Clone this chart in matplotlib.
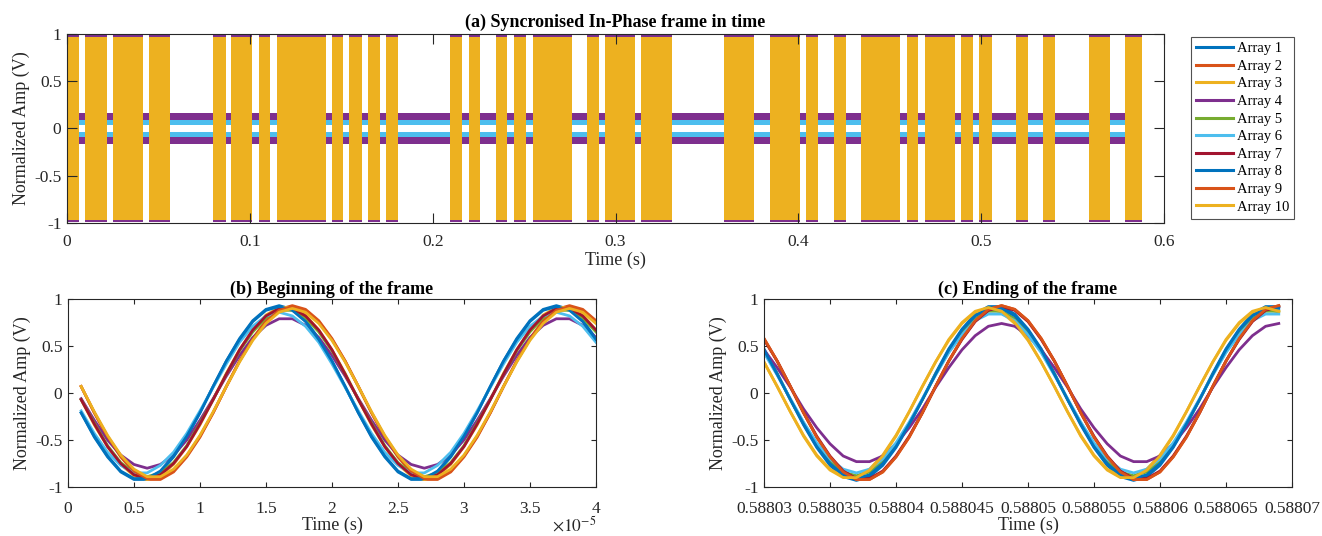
import numpy as np
import matplotlib
matplotlib.use("Agg")
import matplotlib.pyplot as plt
from matplotlib.lines import Line2D
from matplotlib.ticker import FuncFormatter

# ---------------- data ----------------
array_names = ["Array 1", "Array 2", "Array 3", "Array 4", "Array 5",
               "Array 6", "Array 7", "Array 8", "Array 9", "Array 10"]
array_colors = ["#0072BD", "#D95319", "#EDB120", "#7E2F8E", "#77AC30",
                "#4DBEEE", "#A2142F", "#0072BD", "#D95319", "#EDB120"]

# (a) bursts of the frame (s)
burst_start = [0.0, 0.0100, 0.0250, 0.0449, 0.0798, 0.0898, 0.1049, 0.1150,
               0.1451, 0.1544, 0.1646, 0.1745, 0.2097, 0.2197, 0.2346, 0.2444,
               0.2548, 0.2845, 0.2945, 0.3142, 0.3593, 0.3846, 0.4044, 0.4193,
               0.4344, 0.4593, 0.4692, 0.4891, 0.4990, 0.5190, 0.5340, 0.5591,
               0.5789]
burst_end = [0.0067, 0.0217, 0.0414, 0.0564, 0.0867, 0.1013, 0.1111, 0.1416,
             0.1509, 0.1613, 0.1713, 0.1812, 0.2162, 0.2261, 0.2409, 0.2510,
             0.2762, 0.2912, 0.3109, 0.3310, 0.3757, 0.4010, 0.4107, 0.4259,
             0.4555, 0.4656, 0.4856, 0.4954, 0.5057, 0.5255, 0.5403, 0.5706,
             0.5881]
burst_amp = 0.965       # Array 10 envelope
cap_amp = 0.99          # Array 4 envelope in bursts
noise_outer = 0.16      # Array 4 envelope between bursts
noise_mid = 0.09        # Array 6 envelope between bursts
noise_inner = 0.035

# (b) beginning of the frame, samples at 1..40 us
b_vals = {
    1: [-0.21, -0.47, -0.68, -0.84, -0.92, -0.92, -0.84, -0.68, -0.47, -0.21, 0.07, 0.34, 0.58, 0.77, 0.89, 0.93, 0.89, 0.77, 0.58, 0.34, 0.07,
        -0.21, -0.47, -0.68, -0.84, -0.92, -0.92, -0.84, -0.68, -0.47, -0.21, 0.07, 0.34, 0.58, 0.77, 0.89, 0.93, 0.89, 0.77, 0.58],
    2: [0.07, -0.21, -0.47, -0.68, -0.84, -0.92, -0.92, -0.84, -0.68, -0.47, -0.21, 0.07, 0.34, 0.58, 0.77, 0.89, 0.93, 0.89, 0.77, 0.58, 0.34,
        0.07, -0.21, -0.47, -0.68, -0.84, -0.92, -0.92, -0.84, -0.68, -0.47, -0.21, 0.07, 0.34, 0.58, 0.77, 0.89, 0.93, 0.89, 0.77],
    3: [-0.07, -0.34, -0.57, -0.76, -0.88, -0.92, -0.88, -0.76, -0.57, -0.34, -0.07, 0.21, 0.46, 0.67, 0.83, 0.91, 0.91, 0.83, 0.67, 0.46, 0.21,
        -0.07, -0.34, -0.57, -0.76, -0.88, -0.92, -0.88, -0.76, -0.57, -0.34, -0.07, 0.21, 0.46, 0.67, 0.83, 0.91, 0.91, 0.83, 0.67],
    4: [-0.06, -0.29, -0.50, -0.66, -0.76, -0.80, -0.76, -0.66, -0.50, -0.29, -0.06, 0.18, 0.40, 0.59, 0.72, 0.79, 0.79, 0.72, 0.59, 0.40, 0.18,
        -0.06, -0.29, -0.50, -0.66, -0.76, -0.80, -0.76, -0.66, -0.50, -0.29, -0.06, 0.18, 0.40, 0.59, 0.72, 0.79, 0.79, 0.72, 0.59],
    5: [-0.07, -0.32, -0.56, -0.74, -0.85, -0.89, -0.85, -0.74, -0.56, -0.32, -0.07, 0.20, 0.45, 0.65, 0.80, 0.88, 0.88, 0.80, 0.65, 0.45, 0.20,
        -0.07, -0.32, -0.56, -0.74, -0.85, -0.89, -0.85, -0.74, -0.56, -0.32, -0.07, 0.20, 0.45, 0.65, 0.80, 0.88, 0.88, 0.80, 0.65],
    6: [-0.19, -0.43, -0.63, -0.77, -0.85, -0.85, -0.77, -0.63, -0.43, -0.19, 0.06, 0.31, 0.54, 0.71, 0.82, 0.86, 0.82, 0.71, 0.54, 0.31, 0.06,
        -0.19, -0.43, -0.63, -0.77, -0.85, -0.85, -0.77, -0.63, -0.43, -0.19, 0.06, 0.31, 0.54, 0.71, 0.82, 0.86, 0.82, 0.71, 0.54],
    7: [-0.07, -0.33, -0.57, -0.75, -0.87, -0.91, -0.87, -0.75, -0.57, -0.33, -0.07, 0.20, 0.46, 0.67, 0.82, 0.90, 0.90, 0.82, 0.67, 0.46, 0.20,
        -0.07, -0.33, -0.57, -0.75, -0.87, -0.91, -0.87, -0.75, -0.57, -0.33, -0.07, 0.20, 0.46, 0.67, 0.82, 0.90, 0.90, 0.82, 0.67],
    8: [-0.21, -0.46, -0.67, -0.83, -0.91, -0.91, -0.83, -0.67, -0.46, -0.21, 0.07, 0.34, 0.57, 0.76, 0.88, 0.92, 0.88, 0.76, 0.57, 0.34, 0.07,
        -0.21, -0.46, -0.67, -0.83, -0.91, -0.91, -0.83, -0.67, -0.46, -0.21, 0.07, 0.34, 0.57, 0.76, 0.88, 0.92, 0.88, 0.76, 0.57],
    9: [0.07, -0.21, -0.46, -0.67, -0.83, -0.91, -0.91, -0.83, -0.67, -0.46, -0.21, 0.07, 0.34, 0.57, 0.76, 0.88, 0.92, 0.88, 0.76, 0.57, 0.34,
        0.07, -0.21, -0.46, -0.67, -0.83, -0.91, -0.91, -0.83, -0.67, -0.46, -0.21, 0.07, 0.34, 0.57, 0.76, 0.88, 0.92, 0.88, 0.76],
    10: [0.07, -0.20, -0.45, -0.66, -0.81, -0.89, -0.89, -0.81, -0.66, -0.45, -0.20, 0.07, 0.33, 0.56, 0.74, 0.86, 0.90, 0.86, 0.74, 0.56, 0.33,
         0.07, -0.20, -0.45, -0.66, -0.81, -0.89, -0.89, -0.81, -0.66, -0.45, -0.20, 0.07, 0.33, 0.56, 0.74, 0.86, 0.90, 0.86, 0.74],
}

# (c) ending of the frame, samples from 0.58803 s every 1 us
c_vals = {
    1: [0.47, 0.21, -0.07, -0.34, -0.58, -0.77, -0.89, -0.93, -0.89, -0.77, -0.58, -0.34, -0.07, 0.21, 0.47, 0.68, 0.84, 0.92, 0.92, 0.84, 0.68,
        0.47, 0.21, -0.07, -0.34, -0.58, -0.77, -0.89, -0.93, -0.89, -0.77, -0.58, -0.34, -0.07, 0.21, 0.47, 0.68, 0.84, 0.92, 0.92],
    2: [0.58, 0.34, 0.07, -0.21, -0.47, -0.68, -0.84, -0.92, -0.92, -0.84, -0.68, -0.47, -0.21, 0.07, 0.34, 0.58, 0.77, 0.89, 0.93, 0.89, 0.77,
        0.58, 0.34, 0.07, -0.21, -0.47, -0.68, -0.84, -0.92, -0.92, -0.84, -0.68, -0.47, -0.21, 0.07, 0.34, 0.58, 0.77, 0.89, 0.93],
    3: [0.33, 0.07, -0.20, -0.45, -0.66, -0.81, -0.89, -0.89, -0.81, -0.66, -0.45, -0.20, 0.07, 0.33, 0.56, 0.74, 0.86, 0.90, 0.86, 0.74, 0.56,
        0.33, 0.07, -0.20, -0.45, -0.66, -0.81, -0.89, -0.89, -0.81, -0.66, -0.45, -0.20, 0.07, 0.33, 0.56, 0.74, 0.86, 0.90, 0.86],
    4: [0.46, 0.27, 0.06, -0.17, -0.37, -0.54, -0.67, -0.73, -0.73, -0.67, -0.54, -0.37, -0.17, 0.06, 0.27, 0.46, 0.61, 0.71, 0.74, 0.71, 0.61,
        0.46, 0.27, 0.06, -0.17, -0.37, -0.54, -0.67, -0.73, -0.73, -0.67, -0.54, -0.37, -0.17, 0.06, 0.27, 0.46, 0.61, 0.71, 0.74],
    5: [0.44, 0.20, -0.07, -0.32, -0.55, -0.73, -0.84, -0.88, -0.84, -0.73, -0.55, -0.32, -0.07, 0.20, 0.44, 0.65, 0.79, 0.87, 0.87, 0.79, 0.65,
        0.44, 0.20, -0.07, -0.32, -0.55, -0.73, -0.84, -0.88, -0.84, -0.73, -0.55, -0.32, -0.07, 0.20, 0.44, 0.65, 0.79, 0.87, 0.87],
    6: [0.43, 0.19, -0.06, -0.31, -0.53, -0.70, -0.81, -0.85, -0.81, -0.70, -0.53, -0.31, -0.06, 0.19, 0.43, 0.62, 0.77, 0.84, 0.84, 0.77, 0.62,
        0.43, 0.19, -0.06, -0.31, -0.53, -0.70, -0.81, -0.85, -0.81, -0.70, -0.53, -0.31, -0.06, 0.19, 0.43, 0.62, 0.77, 0.84, 0.84],
    7: [0.57, 0.34, 0.07, -0.21, -0.46, -0.67, -0.83, -0.91, -0.91, -0.83, -0.67, -0.46, -0.21, 0.07, 0.34, 0.57, 0.76, 0.88, 0.92, 0.88, 0.76,
        0.57, 0.34, 0.07, -0.21, -0.46, -0.67, -0.83, -0.91, -0.91, -0.83, -0.67, -0.46, -0.21, 0.07, 0.34, 0.57, 0.76, 0.88, 0.92],
    8: [0.46, 0.20, -0.07, -0.33, -0.57, -0.75, -0.87, -0.91, -0.87, -0.75, -0.57, -0.33, -0.07, 0.20, 0.46, 0.67, 0.82, 0.90, 0.90, 0.82, 0.67,
        0.46, 0.20, -0.07, -0.33, -0.57, -0.75, -0.87, -0.91, -0.87, -0.75, -0.57, -0.33, -0.07, 0.20, 0.46, 0.67, 0.82, 0.90, 0.90],
    9: [0.58, 0.34, 0.07, -0.21, -0.47, -0.68, -0.84, -0.92, -0.92, -0.84, -0.68, -0.47, -0.21, 0.07, 0.34, 0.58, 0.77, 0.89, 0.93, 0.89, 0.77,
        0.58, 0.34, 0.07, -0.21, -0.47, -0.68, -0.84, -0.92, -0.92, -0.84, -0.68, -0.47, -0.21, 0.07, 0.34, 0.58, 0.77, 0.89, 0.93],
    10: [0.33, 0.07, -0.20, -0.46, -0.67, -0.82, -0.90, -0.90, -0.82, -0.67, -0.46, -0.20, 0.07, 0.33, 0.57, 0.75, 0.87, 0.91, 0.87, 0.75, 0.57,
         0.33, 0.07, -0.20, -0.46, -0.67, -0.82, -0.90, -0.90, -0.82, -0.67, -0.46, -0.20, 0.07, 0.33, 0.57, 0.75, 0.87, 0.91, 0.87],
}

t_b = np.arange(1, 41) * 1e-6
t_c = 0.58803 + np.arange(40) * 1e-6

xticks_a = [0, 0.1, 0.2, 0.3, 0.4, 0.5, 0.6]
xticks_b = [0, 0.5e-5, 1e-5, 1.5e-5, 2e-5, 2.5e-5, 3e-5, 3.5e-5, 4e-5]
xticks_c = [0.58803, 0.588035, 0.58804, 0.588045, 0.58805, 0.588055,
            0.58806, 0.588065, 0.58807]
yticks = [-1, -0.5, 0, 0.5, 1]

# ---------------- style ----------------
plt.rcParams['font.family'] = ['Liberation Serif', 'DejaVu Serif']
plt.rcParams['mathtext.fontset'] = 'stix'
AX = "#262626"
FS_TICK = 12.5
FS_LABEL = 13
FS_TITLE = 13

fig = plt.figure(figsize=(13.22, 5.36), dpi=100)
ax_a = fig.add_axes([0.0507, 0.584, 0.8298, 0.3526])
ax_b = fig.add_axes([0.0514, 0.0914, 0.3994, 0.3507])
ax_c = fig.add_axes([0.5779, 0.0914, 0.3994, 0.3507])


def style(ax, ticklen, xpad, xlabpad):
    for s in ax.spines.values():
        s.set_color(AX)
        s.set_linewidth(0.8)
    ax.tick_params(direction='in', top=True, right=True, length=ticklen,
                   width=0.8, colors=AX, labelsize=FS_TICK)
    ax.tick_params(axis='x', pad=xpad)
    ax.tick_params(axis='y', pad=4)
    ax.set_ylim(-1, 1)
    ax.set_yticks(yticks)
    ax.yaxis.set_major_formatter(FuncFormatter(lambda v, p: '%g' % v))
    ax.set_ylabel('Normalized Amp (V)', fontsize=FS_LABEL, color=AX, labelpad=3)
    ax.set_xlabel('Time (s)', fontsize=FS_LABEL, color=AX, labelpad=xlabpad)


# ---------------- (a) ----------------
widths = [e - s for s, e in zip(burst_start, burst_end)]
gap_start = burst_end[:-1]
gap_w = [s - e for s, e in zip(burst_start[1:], burst_end[:-1])]
purple = array_colors[3]
cyan = array_colors[5]
orange = array_colors[9]

ax_a.bar(gap_start, noise_outer - noise_inner, width=gap_w, bottom=noise_inner,
         align='edge', color=purple, linewidth=0)
ax_a.bar(gap_start, noise_outer - noise_inner, width=gap_w, bottom=-noise_outer,
         align='edge', color=purple, linewidth=0)
ax_a.bar(gap_start, noise_mid - noise_inner, width=gap_w, bottom=noise_inner,
         align='edge', color=cyan, linewidth=0)
ax_a.bar(gap_start, noise_mid - noise_inner, width=gap_w, bottom=-noise_mid,
         align='edge', color=cyan, linewidth=0)

ax_a.bar(burst_start, 2 * cap_amp, width=widths, bottom=-cap_amp,
         align='edge', color=purple, linewidth=0)
ax_a.bar(burst_start, 2 * burst_amp, width=widths, bottom=-burst_amp,
         align='edge', color=orange, linewidth=0)

ax_a.set_xlim(0, 0.6)
ax_a.set_xticks(xticks_a)
ax_a.xaxis.set_major_formatter(FuncFormatter(lambda v, p: '%g' % v))
style(ax_a, 7, 8, 1)
ax_a.set_title('(a) Syncronised In-Phase frame in time', fontsize=FS_TITLE,
               fontweight='bold', color='black', pad=5)

handles = [Line2D([0], [0], color=c, lw=2.2) for c in array_colors]
leg = fig.legend(handles, array_names, loc='upper left',
                 bbox_to_anchor=(0.9009, 0.931), frameon=True, fancybox=False,
                 edgecolor=AX, fontsize=10.5, handlelength=2.5, handletextpad=0.3,
                 labelspacing=0.3, borderpad=0.35, borderaxespad=0)
leg.get_frame().set_linewidth(0.8)

# ---------------- (b) ----------------
for i in range(1, 11):
    ax_b.plot(t_b, b_vals[i], color=array_colors[i - 1], lw=2)
ax_b.set_xlim(0, 4e-5)
ax_b.set_xticks(xticks_b)
ax_b.xaxis.set_major_formatter(FuncFormatter(lambda v, p: '%g' % round(v / 1e-5, 3)))
style(ax_b, 3.6, 10, 0)
ax_b.set_title('(b) Beginning of the frame', fontsize=FS_TITLE, fontweight='bold',
               color='black', pad=4)
fig.text(0.4508, 0.001, r'$\times10^{-5}$', ha='right', va='bottom',
         fontsize=FS_TICK, color=AX)

# ---------------- (c) ----------------
for i in range(1, 11):
    ax_c.plot(t_c, c_vals[i], color=array_colors[i - 1], lw=2)
ax_c.set_xlim(0.58803, 0.58807)
ax_c.set_xticks(xticks_c)
ax_c.xaxis.set_major_formatter(FuncFormatter(lambda v, p: '%g' % v))
style(ax_c, 3.6, 10, 0)
ax_c.set_title('(c) Ending of the frame', fontsize=FS_TITLE, fontweight='bold',
               color='black', pad=4)

fig.savefig('out.png', dpi=100)
